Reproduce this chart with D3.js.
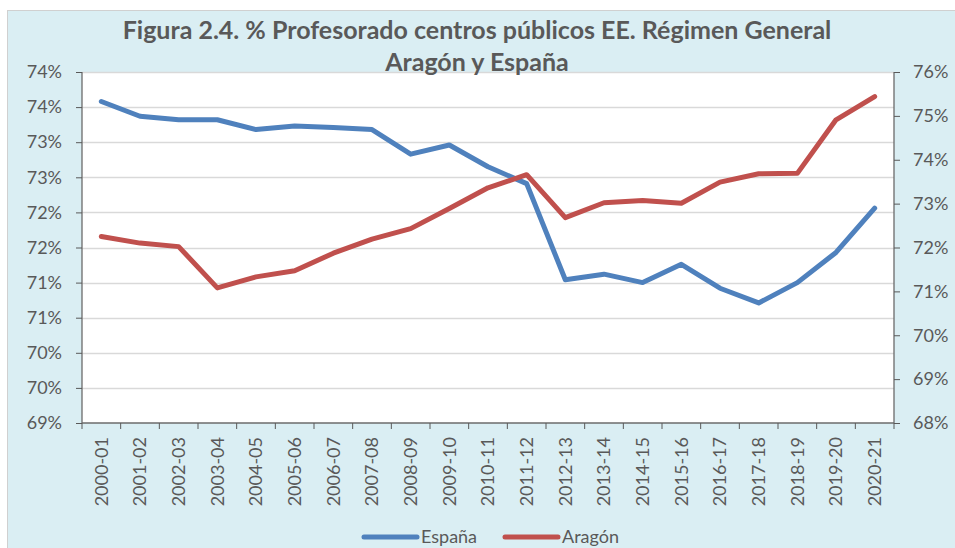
<!DOCTYPE html>
<html>
<head>
<meta charset="utf-8">
<script src="https://cdn.jsdelivr.net/npm/d3@7"></script>
<style>
  html, body { margin: 0; padding: 0; background: #ffffff; }
  svg { display: block; }
</style>
</head>
<body>
<div id="chart"></div>
<script>
const categories = ["2000-01","2001-02","2002-03","2003-04","2004-05","2005-06","2006-07","2007-08","2008-09","2009-10","2010-11","2011-12","2012-13","2013-14","2014-15","2015-16","2016-17","2017-18","2018-19","2019-20","2020-21"];
const espana = [73.58,73.37,73.32,73.32,73.18,73.23,73.21,73.18,72.83,72.96,72.65,72.41,71.04,71.12,71.00,71.26,70.92,70.71,71.00,71.43,72.06];
const aragon = [72.25,72.10,72.02,71.08,71.33,71.47,71.87,72.19,72.43,72.89,73.36,73.66,72.68,73.02,73.07,73.01,73.49,73.68,73.69,74.91,75.44];
const leftTicks = [69,69.5,70,70.5,71,71.5,72,72.5,73,73.5,74];
const leftTickLabels = ["69%","70%","70%","71%","71%","72%","72%","73%","73%","74%","74%"];
const rightTicks = [68,69,70,71,72,73,74,75,76];
const rightTickLabels = ["68%","69%","70%","71%","72%","73%","74%","75%","76%"];
const titleLines = ["Figura 2.4. % Profesorado centros públicos EE. Régimen General","Aragón y España"];
const seriesNames = ["España","Aragón"];

const W = 955, H = 548;
const plot = {left: 82, top: 72, right: 894, bottom: 423};
const font = "Lato, 'Open Sans', sans-serif";
const textColor = "#595959";
const colors = ["#4F81BD", "#C0504D"];

const svg = d3.select("#chart").append("svg").attr("width", W).attr("height", H);

svg.append("rect").attr("x", 7.5).attr("y", 10.5).attr("width", W - 7).attr("height", H)
  .attr("fill", "#DAEEF3").attr("stroke", "#D0D0D0");
svg.append("rect").attr("x", plot.left).attr("y", plot.top)
  .attr("width", plot.right - plot.left).attr("height", plot.bottom - plot.top).attr("fill", "#ffffff");

const x = d3.scaleBand().domain(categories).range([plot.left, plot.right]).padding(0);
const yL = d3.scaleLinear().domain([69, 74]).range([plot.bottom, plot.top]);
const yR = d3.scaleLinear().domain([68, 76]).range([plot.bottom, plot.top]);

// gridlines
svg.append("g").selectAll("line").data(leftTicks.slice(1)).join("line")
  .attr("x1", plot.left).attr("x2", plot.right)
  .attr("y1", d => Math.round(yL(d)) + 0.5).attr("y2", d => Math.round(yL(d)) + 0.5)
  .attr("stroke", "#D9D9D9").attr("stroke-width", 1.3);

// left axis
const axL = svg.append("g").attr("transform", `translate(${plot.left},0)`)
  .call(d3.axisLeft(yL).tickValues(leftTicks).tickSize(6).tickPadding(14)
    .tickFormat((d, i) => leftTickLabels[i]));
// right axis
const axR = svg.append("g").attr("transform", `translate(${plot.right},0)`)
  .call(d3.axisRight(yR).tickValues(rightTicks).tickSize(6).tickPadding(13)
    .tickFormat((d, i) => rightTickLabels[i]));
// bottom axis with ticks at band boundaries
const axB = svg.append("g").attr("transform", `translate(0,${plot.bottom})`)
  .call(d3.axisBottom(x).tickSize(0).tickPadding(10));
axB.selectAll(".tick text")
  .attr("transform", "rotate(-90)")
  .attr("text-anchor", "end")
  .attr("x", -14).attr("y", 0).attr("dy", "0.35em");
const bounds = categories.map(c => x(c)).concat([plot.right]);
axB.append("g").selectAll("line").data(bounds).join("line")
  .attr("x1", d => d).attr("x2", d => d).attr("y1", 0).attr("y2", 6)
  .attr("stroke", "#595959");

[axL, axR, axB].forEach(a => {
  a.select(".domain").attr("stroke", "#6b6b6b").attr("stroke-width", 1.3);
  a.selectAll(".tick line").attr("stroke", "#595959");
  a.selectAll(".tick text").attr("fill", textColor).attr("font-family", font).attr("font-size", 18);
});
axB.select(".domain").attr("d", `M${plot.left},0H${plot.right}`);
axL.select(".domain").attr("d", `M0,${plot.top}V${plot.bottom}`);
axR.select(".domain").attr("d", `M0,${plot.top}V${plot.bottom}`);

// lines
const cx = c => x(c) + x.bandwidth() / 2;
const lineL = d3.line().x((d, i) => cx(categories[i])).y(d => yL(d));
const lineR = d3.line().x((d, i) => cx(categories[i])).y(d => yR(d));
svg.append("path").datum(espana).attr("d", lineL).attr("fill", "none")
  .attr("stroke", colors[0]).attr("stroke-width", 5).attr("stroke-linejoin", "round").attr("stroke-linecap", "round");
svg.append("path").datum(aragon).attr("d", lineR).attr("fill", "none")
  .attr("stroke", colors[1]).attr("stroke-width", 5).attr("stroke-linejoin", "round").attr("stroke-linecap", "round");

// title
svg.append("g").selectAll("text").data(titleLines).join("text")
  .attr("x", 477).attr("y", (d, i) => 39 + i * 32)
  .attr("text-anchor", "middle").attr("font-family", font).attr("font-weight", "bold")
  .attr("font-size", 25).attr("fill", textColor).text(d => d);

// legend
const legendItems = [{name: seriesNames[0], color: colors[0], x: 362}, {name: seriesNames[1], color: colors[1], x: 503}];
const lg = svg.append("g").selectAll("g").data(legendItems).join("g")
  .attr("transform", d => `translate(${d.x},537)`);
lg.append("line").attr("x1", 2).attr("x2", 55).attr("y1", 0).attr("y2", 0)
  .attr("stroke", d => d.color).attr("stroke-width", 5).attr("stroke-linecap", "round");
lg.append("text").attr("x", 59).attr("y", 0).attr("dy", "0.35em")
  .attr("font-family", font).attr("font-size", 18).attr("fill", textColor).text(d => d.name);
</script>
</body>
</html>
